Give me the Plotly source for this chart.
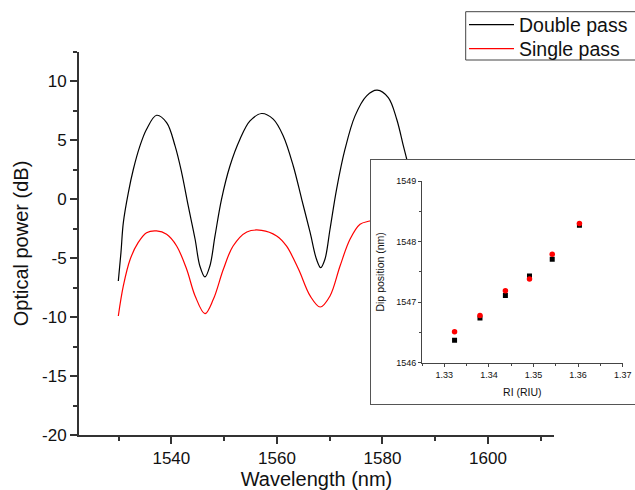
import plotly.graph_objects as go

# ---------------- main spectra ----------------
wl_double = [1529.95, 1530.45, 1530.9, 1531.85, 1532.8, 1534.05, 1535.3, 1537.2, 1539.1,
             1540.7, 1541.95, 1543.2, 1544.5, 1545.4, 1546.37, 1547.3, 1548.27, 1549.5,
             1551.1, 1553.0, 1554.9, 1557.1, 1559.3, 1561.2, 1563.1, 1564.7, 1566.3,
             1567.5, 1568.3, 1569.1, 1570.06, 1571.3, 1572.9, 1574.8, 1577.0, 1579.0,
             1581.1, 1582.7, 1583.96, 1584.6, 1585.5, 1586.5, 1588.0]
p_double = [-6.93, -4.52, -1.98, 0.57, 2.55, 4.53, 5.95, 7.13, 6.51,
            4.53, 2.27, -0.56, -3.39, -5.66, -6.59, -5.66, -3.11, 0.0,
            2.83, 5.10, 6.65, 7.28, 6.8, 5.38, 2.83, 0.0, -2.83,
            -5.09, -5.8, -5.09, -2.54, 0.85, 4.25, 7.08, 8.78, 9.26,
            8.63, 6.79, 4.53, 3.4, 1.5, -0.8, -4.0]

wl_single = [1529.95, 1530.9, 1532.2, 1533.7, 1535.3, 1537.2, 1539.1, 1541.0, 1542.9,
             1544.5, 1546.37, 1547.95, 1549.85, 1551.7, 1554.3, 1557.1, 1559.95, 1561.8,
             1564.1, 1566.3, 1568.2, 1570.06, 1571.96, 1573.85, 1575.75, 1577.6, 1579.5,
             1581.5, 1583.5, 1585.5]
p_single = [-9.9, -7.35, -5.09, -3.68, -2.83, -2.68, -2.97, -3.96, -5.94,
            -8.2, -9.7, -8.49, -5.94, -3.96, -2.77, -2.63, -3.11, -3.96,
            -5.94, -8.2, -9.14, -8.2, -5.66, -3.39, -2.12, -1.84, -1.6,
            -1.9, -3.0, -5.0]

y_tickvals = [-20, -15, -10, -5, 0, 5, 10]
y_ticktext = ["-20", "-15", "-10", "-5", "0", "5", "10"]

# ---------------- inset data ----------------
ri_values = [1.3323, 1.3380, 1.3437, 1.3491, 1.3542, 1.3603]
dip_double = [1546.37, 1546.74, 1547.11, 1547.43, 1547.71, 1548.27]
dip_single = [1546.51, 1546.78, 1547.19, 1547.38, 1547.79, 1548.30]

W, H = 635, 490
FONT = "Liberation Sans, Arial, sans-serif"
AX = "#333333"


def px_x(a, b):
    return [max(0.0, a / W), min(1.0, b / W)]


def px_y(top, bottom):
    return [max(0.0, 1 - bottom / H), min(1.0, 1 - top / H)]


fig = go.Figure()
fig.add_trace(go.Scatter(x=wl_double, y=p_double, mode="lines", name="Double pass",
                         legend="legend",
                         line=dict(color="#000000", width=1.2, shape="spline", smoothing=1.0)))
fig.add_trace(go.Scatter(x=wl_single, y=p_single, mode="lines", name="Single pass",
                         legend="legend2",
                         line=dict(color="#ff0000", width=1.2, shape="spline", smoothing=1.0)))

# empty trace so that the inset frame subplot exists (its white background hides the curves)
fig.add_trace(go.Scatter(x=[], y=[], xaxis="x2", yaxis="y2", showlegend=False, hoverinfo="skip"))

fig.add_trace(go.Scatter(x=ri_values, y=dip_double, mode="markers", showlegend=False,
                         xaxis="x3", yaxis="y3",
                         marker=dict(symbol="square", size=5, color="#000000")))
fig.add_trace(go.Scatter(x=ri_values, y=dip_single, mode="markers", showlegend=False,
                         xaxis="x3", yaxis="y3",
                         marker=dict(symbol="circle", size=5.5, color="#ff0000")))

leg_common = dict(xanchor="left", yanchor="middle", borderwidth=0,
                  bgcolor="rgba(0,0,0,0)", itemwidth=45,
                  font=dict(size=19.5, family=FONT, color="#111111"))

fig.update_layout(
    width=W, height=H,
    margin=dict(l=0, r=0, t=0, b=0, autoexpand=False),
    paper_bgcolor="white", plot_bgcolor="white",
    font=dict(family=FONT, color="#111111"),
    showlegend=True,
    legend=dict(x=464 / W, y=1 - 25 / H, **leg_common),
    legend2=dict(x=464 / W, y=1 - 49 / H, **leg_common),
    shapes=[dict(type="rect", xref="paper", yref="paper",
                 x0=465.7 / W, x1=1.02, y0=1 - 60 / H, y1=1 - 11.7 / H,
                 line=dict(color="#444444", width=1), fillcolor="rgba(0,0,0,0)",
                 layer="above")],
    xaxis=dict(domain=px_x(79, 554), range=[1522.5, 1612.5], anchor="y",
               showline=True, linecolor=AX, linewidth=2, mirror=False,
               showgrid=False, zeroline=False,
               ticks="outside", ticklen=7, tickwidth=1.5, tickcolor=AX,
               tick0=1540, dtick=20,
               minor=dict(ticks="outside", ticklen=4, tickwidth=1.5, tickcolor=AX, dtick=10, showgrid=False),
               tickfont=dict(size=17),
               title=dict(text="Wavelength (nm)", font=dict(size=20), standoff=8)),
    yaxis=dict(domain=px_y(52, 435), range=[-20, 12.5], anchor="x",
               showline=True, linecolor=AX, linewidth=2, mirror=False,
               showgrid=False, zeroline=False,
               ticks="outside", ticklen=7, tickwidth=1.5, tickcolor=AX,
               tickmode="array", tickvals=y_tickvals, ticktext=y_ticktext,
               minor=dict(ticks="outside", ticklen=4, tickwidth=1.5, tickcolor=AX,
                          tick0=0, dtick=2.5, showgrid=False),
               tickfont=dict(size=17),
               title=dict(text="Optical power (dB)", font=dict(size=20), standoff=8)),
    # inset frame (white box that hides the curves behind it)
    xaxis2=dict(domain=px_x(370.7, 635), range=[0, 1], anchor="y2",
                showline=True, linecolor="#555555", linewidth=1, mirror=True,
                showgrid=False, zeroline=False, showticklabels=False, ticks="",
                fixedrange=True),
    yaxis2=dict(domain=px_y(160, 404), range=[0, 1], anchor="x2",
                showline=True, linecolor="#555555", linewidth=1, mirror=False,
                showgrid=False, zeroline=False, showticklabels=False, ticks="",
                fixedrange=True),
    # inset axes
    xaxis3=dict(domain=px_x(422, 622.7), range=[1.325, 1.37], anchor="y3",
                showline=True, linecolor="#444444", linewidth=1, mirror=False,
                showgrid=False, zeroline=False,
                ticks="outside", ticklen=3, tickwidth=1, tickcolor="#444444",
                tick0=1.33, dtick=0.01, tickformat=".2f",
                minor=dict(ticks="outside", ticklen=2, tickwidth=1, tickcolor="#444444", dtick=0.005, showgrid=False),
                tickfont=dict(size=9),
                title=dict(text="RI (RIU)", font=dict(size=10.5), standoff=10)),
    yaxis3=dict(domain=px_y(181, 362.7), range=[1546, 1549], anchor="x3",
                showline=True, linecolor="#444444", linewidth=1, mirror=False,
                showgrid=False, zeroline=False,
                ticks="outside", ticklen=3, tickwidth=1, tickcolor="#444444",
                tick0=1546, dtick=1,
                minor=dict(ticks="outside", ticklen=2, tickwidth=1, tickcolor="#444444", dtick=0.5, showgrid=False),
                tickfont=dict(size=9),
                title=dict(text="Dip position (nm)", font=dict(size=10.5), standoff=9)),
)

fig.write_html("out.html", config={"displayModeBar": False},
               post_script="document.body.style.margin='0';document.body.style.overflow='hidden';")
